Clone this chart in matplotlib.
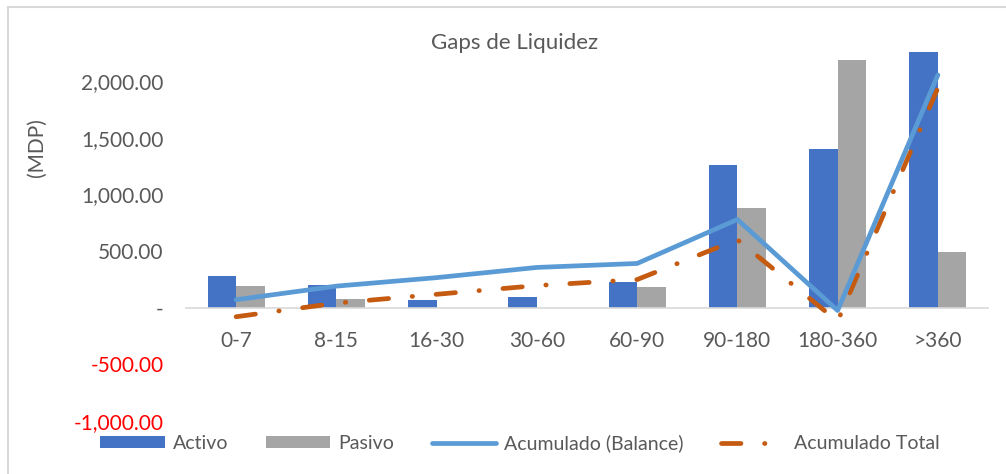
import matplotlib.pyplot as plt
from matplotlib.patches import Rectangle
from matplotlib.ticker import FuncFormatter
import numpy as np

plt.rcParams['font.family'] = ['Lato', 'DejaVu Sans']
plt.rcParams['lines.scale_dashes'] = False

# Data
categories = ["0-7", "8-15", "16-30", "30-60", "60-90", "90-180", "180-360", ">360"]
activo = [275, 200, 70, 97, 225, 1256, 1398, 2257]
pasivo = [195, 75, 0, 0, 185, 876, 2186, 495]
acum_balance = [70, 190, 265, 355, 390, 778, -25, 2053]
acum_total = [-80, 40, 118, 195, 248, 600, -120, 1938]

yticks = [-1000, -500, 0, 500, 1000, 1500, 2000]

text_gray = '#595959'

fig = plt.figure(figsize=(10.06, 4.74), dpi=100)
ax = fig.add_axes([186 / 1006, (474 - 421) / 474, (988 - 186) / 1006, (421 - 47) / 474])

x = np.arange(len(categories))
w = 0.285
b1 = ax.bar(x - w / 2, activo, width=w, color='#4472C4', label='Activo', zorder=2)
b2 = ax.bar(x + w / 2, pasivo, width=w, color='#A5A5A5', label='Pasivo', zorder=2)
l1, = ax.plot(x, acum_balance, color='#5B9BD5', lw=3.4, solid_capstyle='round',
              solid_joinstyle='round', label='Acumulado (Balance)', zorder=4)
l2, = ax.plot(x, acum_total, color='#C55A11', lw=3.4, dash_capstyle='round',
              linestyle=(0, (14, 17, 0.3, 17)), label='Acumulado Total', zorder=3)

ax.set_xlim(-0.5, 7.5)
ax.set_ylim(-1000, 2300)

# Axis line at zero, no other spines
for s in ['top', 'right', 'left']:
    ax.spines[s].set_visible(False)
ax.spines['bottom'].set_position(('data', 0))
ax.spines['bottom'].set_color('#D9D9D9')
ax.spines['bottom'].set_linewidth(1.2)

ax.set_xticks(x)
ax.set_xticklabels(categories)
ax.tick_params(axis='x', length=0, pad=17, labelsize=15, labelcolor=text_gray)

def fmt(v, pos):
    if v == 0:
        return '-'
    return f"{v:,.2f}"

ax.set_yticks(yticks)
ax.yaxis.set_major_formatter(FuncFormatter(fmt))
ax.tick_params(axis='y', length=0, pad=16, labelsize=15, labelcolor=text_gray)
for lbl, v in zip(ax.get_yticklabels(), yticks):
    if v < 0:
        lbl.set_color('#FF0000')

fig.text(37 / 1006, 1 - 148 / 474, '(MDP)', rotation=90, ha='center', va='center',
         fontsize=15, color=text_gray)
fig.text(515 / 1006, 1 - 43 / 474, 'Gaps de Liquidez', ha='center', va='center',
         fontsize=16, color=text_gray)

ax.legend([b1, b2, l1, l2], ['Activo', 'Pasivo', 'Acumulado (Balance)', 'Acumulado Total'],
          loc='center', bbox_to_anchor=(520 / 1006, 1 - 443 / 474),
          bbox_transform=fig.transFigure, ncol=4, frameon=False,
          fontsize=14, labelcolor=text_gray, handlelength=3.3,
          handleheight=0.55, handletextpad=0.45, columnspacing=1.9)

# Chart border
fig.patches.append(Rectangle((8 / 1006, -0.05), 1.1, 1 - 7 / 474 + 0.05,
                             transform=fig.transFigure, fill=False,
                             edgecolor='#D9D9D9', lw=1.5))

fig.savefig('out.png', dpi=100)
